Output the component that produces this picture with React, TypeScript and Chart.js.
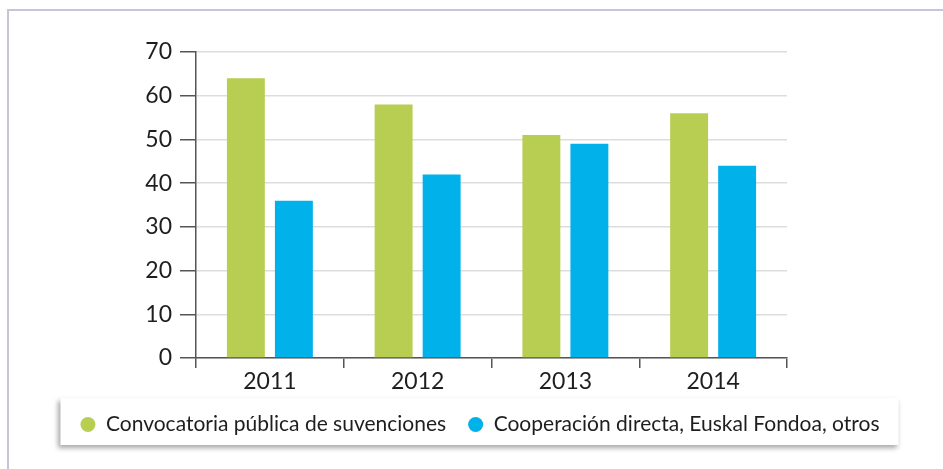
import React, { useEffect, useRef } from "react";
import { Chart, registerables } from "chart.js";

Chart.register(...registerables);

const years = ["2011", "2012", "2013", "2014"];
const seriesNames = ["Convocatoria pública de suvenciones", "Cooperación directa, Euskal Fondoa, otros"];
const convocatoria = [64, 58, 51, 56];
const cooperacion = [36, 42, 49, 44];
const yMin = 0;
const yMax = 70;
const yStep = 10;

const FONT = "Lato, 'Liberation Sans', sans-serif";
const GREEN = "#b8ce52";
const BLUE = "#00b1ea";
const TEXT = "#1e1e1e";
const AXIS = "#555555";

const framePlugin = {
  id: "frameAndLegendBox",
  beforeDraw(chart: any) {
    const ctx = chart.ctx;
    ctx.save();
    ctx.fillStyle = "#ffffff";
    ctx.fillRect(0, 0, chart.width, chart.height);
    ctx.strokeStyle = "#c8c4da";
    ctx.lineWidth = 2;
    ctx.beginPath();
    ctx.moveTo(8, chart.height + 10);
    ctx.lineTo(8, 10);
    ctx.lineTo(chart.width + 10, 10);
    ctx.stroke();
    const lg = chart.legend;
    if (lg && lg.legendHitBoxes && lg.legendHitBoxes.length) {
      const hb = lg.legendHitBoxes;
      const first = hb[0];
      const last = hb[hb.length - 1];
      const left = first.left - 20;
      const right = last.left + last.width + 19;
      const top = lg.top + 6;
      const bottom = lg.bottom;
      ctx.shadowColor = "rgba(0,0,0,0.35)";
      ctx.shadowBlur = 5;
      ctx.shadowOffsetX = -2;
      ctx.shadowOffsetY = 3;
      ctx.fillStyle = "#ffffff";
      ctx.fillRect(left, top, right - left, bottom - top);
    }
    ctx.restore();
  },
};

export default function App() {
  const ref = useRef<HTMLCanvasElement | null>(null);

  useEffect(() => {
    if (!ref.current) return;
    const chart = new Chart(ref.current, {
      type: "bar",
      data: {
        labels: years,
        datasets: [
          {
            label: seriesNames[0],
            data: convocatoria,
            backgroundColor: GREEN,
            borderWidth: 0,
            categoryPercentage: 0.65,
            barPercentage: 0.79,
          },
          {
            label: seriesNames[1],
            data: cooperacion,
            backgroundColor: BLUE,
            borderWidth: 0,
            categoryPercentage: 0.65,
            barPercentage: 0.79,
          },
        ],
      },
      options: {
        responsive: false,
        animation: false,
        devicePixelRatio: 1,
        layout: { padding: { left: 17, right: 0, top: 52, bottom: 24 } },
        plugins: {
          tooltip: { enabled: false },
          legend: {
            position: "bottom",
            labels: {
              usePointStyle: true,
              pointStyle: "circle",
              boxWidth: 15,
              boxHeight: 10.6,
              padding: 22,
              color: TEXT,
              font: { family: FONT, size: 21 },
            },
          },
        },
        scales: {
          x: {
            grid: {
              display: true,
              offset: true,
              drawOnChartArea: false,
              drawTicks: true,
              tickLength: 10,
              color: AXIS,
              tickColor: AXIS,
              lineWidth: 1.5,
            },
            border: { display: true, color: AXIS, width: 1.5 },
            ticks: { color: TEXT, padding: 0, font: { family: FONT, size: 23 } },
            afterFit: (s: any) => {
              s.height = 34;
            },
          },
          y: {
            min: yMin,
            max: yMax,
            grid: {
              color: "#dddddd",
              lineWidth: 1.5,
              tickLength: 16,
              tickColor: AXIS,
              tickWidth: 1.5,
            },
            border: { display: true, color: AXIS, width: 1.5 },
            ticks: {
              stepSize: yStep,
              padding: 8,
              color: TEXT,
              font: { family: FONT, size: 23 },
            },
            afterFit: (s: any) => {
              s.width = 179;
            },
          },
          yR: {
            position: "right",
            display: true,
            grid: { display: false, drawTicks: false },
            border: { display: false },
            ticks: { display: false },
            afterFit: (s: any) => {
              s.width = 156;
            },
          },
        },
      },
      plugins: [framePlugin],
    } as any);
    return () => chart.destroy();
  }, []);

  return (
    <div style={{ position: "absolute", left: 0, top: 0, width: 943, height: 469, overflow: "hidden" }}>
      <canvas ref={ref} width={943} height={469} style={{ display: "block" }} />
    </div>
  );
}
